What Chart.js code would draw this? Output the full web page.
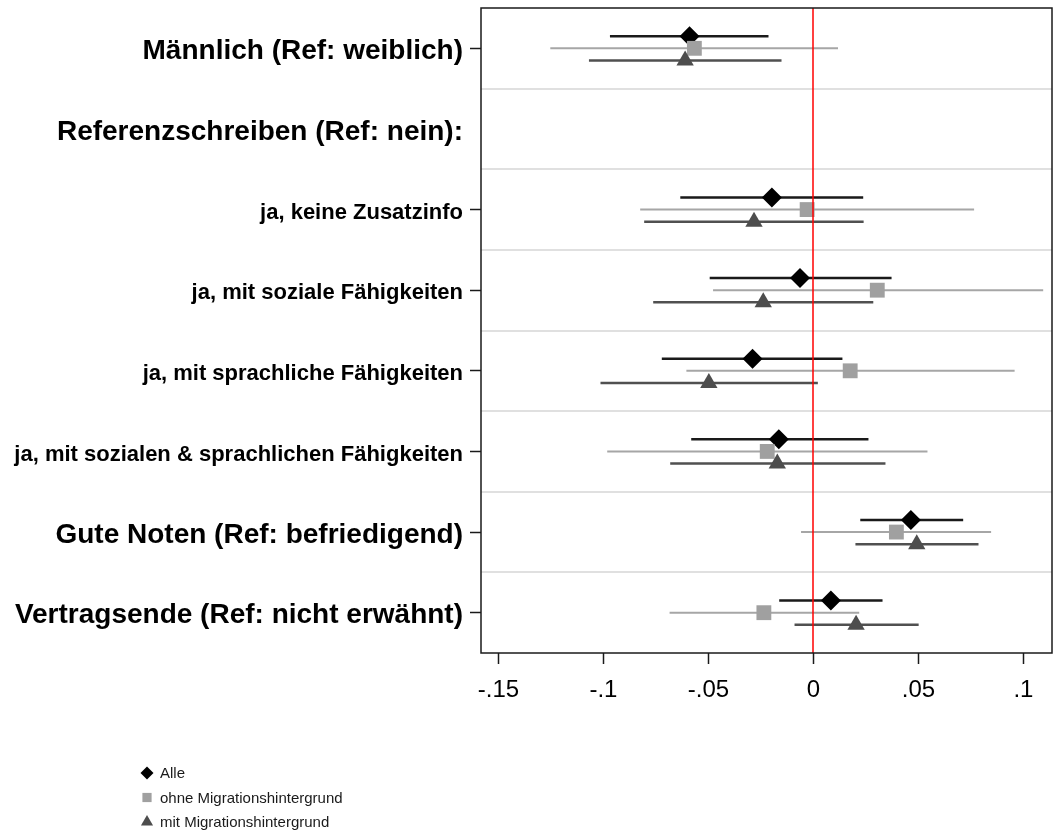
<!DOCTYPE html>
<html>
<head>
<meta charset="utf-8">
<script src="https://cdn.jsdelivr.net/npm/chart.js@4.4.0/dist/chart.umd.min.js"></script>
<style>
  html, body { margin: 0; padding: 0; background: #fff; }
  canvas { display: block; }
</style>
</head>
<body>
<canvas id="coefChart" width="1053" height="830"></canvas>
<script>
// Rows of the coefficient plot, top to bottom
const rowLabels = [
    'Männlich (Ref: weiblich)',
    'Referenzschreiben (Ref: nein):',
    'ja, keine Zusatzinfo',
    'ja, mit soziale Fähigkeiten',
    'ja, mit sprachliche Fähigkeiten',
    'ja, mit sozialen & sprachlichen Fähigkeiten',
    'Gute Noten (Ref: befriedigend)',
    'Vertragsende (Ref: nicht erwähnt)'
];
const xTicks = [-0.15, -0.1, -0.05, 0, 0.05, 0.1];

const seriesNames = ['Alle', 'ohne Migrationshintergrund', 'mit Migrationshintergrund'];

// point estimates and confidence bounds (row 2 is a heading without values)
const alleEst = [-0.0590, null, -0.0198, -0.0064, -0.0290, -0.0165, 0.0464, 0.0083];
const alleLo  = [-0.0969, null, -0.0634, -0.0494, -0.0722, -0.0582, 0.0223, -0.0163];
const alleHi  = [-0.0214, null, 0.0237, 0.0372, 0.0138, 0.0262, 0.0713, 0.0329];

const ohneEst = [-0.0567, null, -0.0030, 0.0304, 0.0175, -0.0220, 0.0395, -0.0236];
const ohneLo  = [-0.1253, null, -0.0825, -0.0478, -0.0605, -0.0982, -0.0059, -0.0685];
const ohneHi  = [0.0117, null, 0.0765, 0.1094, 0.0958, 0.0543, 0.0846, 0.0218];

const mitEst = [-0.0611, null, -0.0283, -0.0239, -0.0498, -0.0172, 0.0492, 0.0203];
const mitLo  = [-0.1069, null, -0.0806, -0.0763, -0.1014, -0.0682, 0.0200, -0.0090];
const mitHi  = [-0.0152, null, 0.0239, 0.0285, 0.0021, 0.0343, 0.0786, 0.0501];

const FONT = "'Liberation Sans', Arial, sans-serif";
const rowIdx = rowLabels.map((_, i) => i + 1);

function ciData(lo, hi, shift) {
    const pts = [];
    lo.forEach((l, i) => {
        if (l === null) return;
        const y = rowIdx[i] + shift;
        pts.push({ x: l, y: y }, { x: hi[i], y: y }, { x: hi[i], y: null });
    });
    return pts;
}

function estData(est, shift) {
    return est
        .map((v, i) => (v === null ? null : { x: v, y: rowIdx[i] + shift }))
        .filter(p => p !== null);
}

function labelFor(c) {
    if (!c || !c.tick) return '';
    return rowLabels[Math.round(c.tick.value) - 1] || '';
}

// no extra room for labels hanging over the axis ends
function noPad(scale) {
    scale.paddingLeft = 0;
    scale.paddingRight = 0;
    scale.paddingTop = 0;
    scale.paddingBottom = 0;
}

const series = [
    { name: seriesNames[0], est: alleEst, lo: alleLo, hi: alleHi, shift: -0.15,
      marker: 'rectRot', radius: 10, color: '#000000', line: '#1a1a1a', lineWidth: 2.5 },
    { name: seriesNames[1], est: ohneEst, lo: ohneLo, hi: ohneHi, shift: 0,
      marker: 'rect', radius: 10.5, color: '#a0a0a0', line: '#a6a6a6', lineWidth: 2 },
    { name: seriesNames[2], est: mitEst, lo: mitLo, hi: mitHi, shift: 0.15,
      marker: 'triangle', radius: 10, color: '#4d4d4d', line: '#505050', lineWidth: 2.5 }
];

const datasets = [];
series.forEach((s, k) => {
    datasets.push({
        type: 'line',
        label: s.name + ' KI',
        data: ciData(s.lo, s.hi, s.shift),
        borderColor: s.line,
        borderWidth: s.lineWidth,
        pointRadius: 0,
        fill: false,
        spanGaps: false,
        order: 10 - k
    });
    datasets.push({
        type: 'scatter',
        label: s.name,
        data: estData(s.est, s.shift),
        pointStyle: s.marker,
        pointRadius: s.radius,
        pointBackgroundColor: s.color,
        pointBorderColor: s.color,
        pointBorderWidth: 0,
        order: 5 - k
    });
});

// zero line over the interval lines, then the frame
const framePlugin = {
    id: 'frame',
    afterDatasetsDraw(chart) {
        const { ctx, chartArea: a, scales } = chart;
        const x0 = Math.round(scales.x.getPixelForValue(0));
        ctx.save();
        ctx.strokeStyle = '#ff0000';
        ctx.lineWidth = 1.5;
        ctx.beginPath();
        ctx.moveTo(x0, a.top);
        ctx.lineTo(x0, a.bottom);
        ctx.stroke();
        ctx.restore();
    },
    afterDraw(chart) {
        const { ctx, chartArea: a } = chart;
        ctx.save();
        ctx.strokeStyle = '#1a1a1a';
        ctx.lineWidth = 1.5;
        ctx.strokeRect(a.left, a.top, a.right - a.left, a.bottom - a.top);
        ctx.restore();
    }
};

function drawMarker(ctx, style, x, y, r) {
    ctx.beginPath();
    if (style === 'rectRot') {
        ctx.moveTo(x - r, y); ctx.lineTo(x, y - r); ctx.lineTo(x + r, y); ctx.lineTo(x, y + r);
    } else if (style === 'rect') {
        const h = r * Math.SQRT1_2;
        ctx.rect(x - h, y - h, 2 * h, 2 * h);
    } else {
        const w = r * Math.sin(Math.PI / 3);
        ctx.moveTo(x, y - r); ctx.lineTo(x + w, y + r / 2); ctx.lineTo(x - w, y + r / 2);
    }
    ctx.closePath();
    ctx.fill();
}

// legend as a vertical list below the plot
const legendPlugin = {
    id: 'stackedLegend',
    afterDraw(chart) {
        const ctx = chart.ctx;
        const mx = 147, tx = 160, y0 = 773, dy = 24.5;
        ctx.save();
        ctx.font = '15px ' + FONT;
        ctx.textBaseline = 'middle';
        ctx.textAlign = 'left';
        series.forEach((s, i) => {
            const y = y0 + i * dy;
            ctx.fillStyle = s.color;
            drawMarker(ctx, s.marker, mx, y, s.marker === 'triangle' ? 7 : 6.5);
            ctx.fillStyle = '#1a1a1a';
            ctx.fillText(s.name, tx, y + 1);
        });
        ctx.restore();
    }
};

new Chart(document.getElementById('coefChart').getContext('2d'), {
    data: { datasets: datasets },
    options: {
        responsive: false,
        animation: false,
        events: [],
        layout: { autoPadding: false, padding: { left: 8, right: 1, top: 8, bottom: 117 } },
        plugins: {
            legend: { display: false },
            tooltip: { enabled: false }
        },
        scales: {
            x: {
                type: 'linear',
                min: -0.1583,
                max: 0.1136,
                afterBuildTicks: scale => { scale.ticks = xTicks.map(v => ({ value: v })); },
                afterFit: scale => { scale.height = 60; noPad(scale); },
                grid: { drawOnChartArea: false, tickLength: 11, tickColor: '#1a1a1a', tickWidth: 1.5 },
                border: { display: false },
                ticks: {
                    padding: 12,
                    color: '#000',
                    font: { family: FONT, size: 24 },
                    callback: v => (v === 0 ? '0' : String(Math.round(v * 100) / 100).replace('0.', '.'))
                }
            },
            y: {
                type: 'linear',
                position: 'left',
                reverse: true,
                min: 0.5,
                max: 8.5,
                weight: 2,
                afterBuildTicks: scale => { scale.ticks = rowIdx.map(v => ({ value: v })); },
                afterFit: scale => { scale.width = 473; noPad(scale); },
                grid: {
                    drawOnChartArea: false,
                    tickLength: 11,
                    tickWidth: 1.5,
                    tickColor: c => (labelFor(c).endsWith(':') ? 'rgba(0,0,0,0)' : '#1a1a1a')
                },
                border: { display: false },
                ticks: {
                    padding: 7,
                    labelOffset: 3,
                    color: '#000',
                    autoSkip: false,
                    font: c => ({
                        family: FONT,
                        weight: 'bold',
                        size: labelFor(c).startsWith('ja,') ? 22 : 28
                    }),
                    callback: v => rowLabels[Math.round(v) - 1]
                }
            },
            ySep: {
                type: 'linear',
                position: 'left',
                reverse: true,
                min: 0.5,
                max: 8.5,
                weight: 1,
                afterBuildTicks: scale => { scale.ticks = rowIdx.slice(0, -1).map(v => ({ value: v + 0.5 })); },
                afterFit: scale => { scale.width = 0; noPad(scale); },
                grid: { drawOnChartArea: true, drawTicks: false, color: '#e0e0e0', lineWidth: 2 },
                border: { display: false },
                ticks: { display: false }
            }
        }
    },
    plugins: [framePlugin, legendPlugin]
});
</script>
</body>
</html>
